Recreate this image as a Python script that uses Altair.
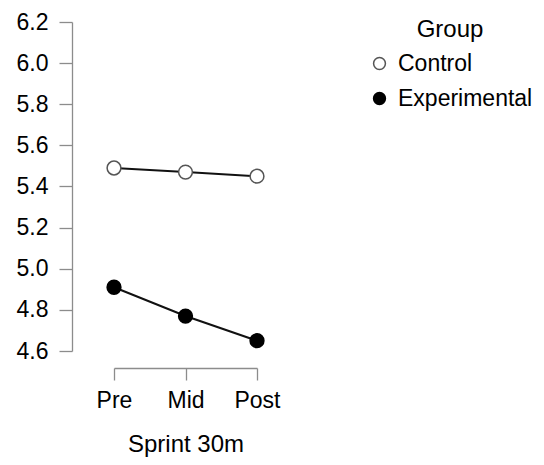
import altair as alt
import pandas as pd

times = ["Pre", "Mid", "Post"]
groups = ["Control", "Experimental"]
control_vals = [5.49, 5.47, 5.45]
experimental_vals = [4.91, 4.77, 4.65]
y_ticks = [4.6, 4.8, 5.0, 5.2, 5.4, 5.6, 5.8, 6.0, 6.2]

rows = []
for t, v in zip(times, control_vals):
    rows.append({"Time": t, "Value": v, "Group": "Control"})
for t, v in zip(times, experimental_vals):
    rows.append({"Time": t, "Value": v, "Group": "Experimental"})
df = pd.DataFrame(rows)

FONT = "Liberation Sans"
GREY = "#8c8c8c"

x_enc = alt.X(
    "Time:N",
    sort=times,
    scale=alt.Scale(type="point", padding=0),
    axis=alt.Axis(
        title="Sprint 30m", labelAngle=0, offset=17, tickSize=12,
        labelPadding=9, titlePadding=20, grid=False,
    ),
)
y_enc = alt.Y(
    "Value:Q",
    scale=alt.Scale(domain=[4.6, 6.2], nice=False, zero=False),
    axis=alt.Axis(
        values=y_ticks, format=".1f", offset=42, tickSize=13,
        labelPadding=11, title=None, grid=False,
    ),
)

base = alt.Chart(df)

lines = base.mark_line(color="#111111", strokeWidth=2).encode(
    x=x_enc, y=y_enc, detail="Group:N"
)

points = base.mark_circle(size=190, opacity=1, strokeWidth=1.5).encode(
    x=x_enc,
    y=y_enc,
    fill=alt.Fill("Group:N", scale=alt.Scale(domain=groups, range=["#ffffff", "#000000"]),
                  legend=alt.Legend(title="Group")),
    stroke=alt.Stroke("Group:N", scale=alt.Scale(domain=groups, range=["#555555", "#000000"]),
                      legend=alt.Legend(title="Group")),
)

chart = (
    alt.layer(lines, points)
    .properties(
        width=143, height=329,
        autosize=alt.AutoSizeParams(type="none"),
        padding={"left": 106, "top": 14, "right": 279, "bottom": 106},
    )
    .configure_view(stroke=None)
    .configure_axis(
        labelFont=FONT, titleFont=FONT, labelFontSize=23, titleFontSize=24,
        labelColor="#000000", titleColor="#000000", titleFontWeight="normal",
        domainColor=GREY, tickColor=GREY, domainWidth=1.3, tickWidth=1.3,
    )
    .configure_legend(
        orient="none", legendX=254, legendY=-4, padding=0,
        titleFont=FONT, labelFont=FONT, titleFontSize=24, labelFontSize=23,
        titleFontWeight="normal", titleColor="#000000", labelColor="#000000",
        titleAnchor="middle", titleAlign="center", titlePadding=10,
        symbolType="circle", symbolSize=140, symbolStrokeWidth=1.5,
        labelOffset=7, rowPadding=11, labelLimit=300,
    )
)

chart.save("out.html", embed_options={"renderer": "svg", "actions": False})
